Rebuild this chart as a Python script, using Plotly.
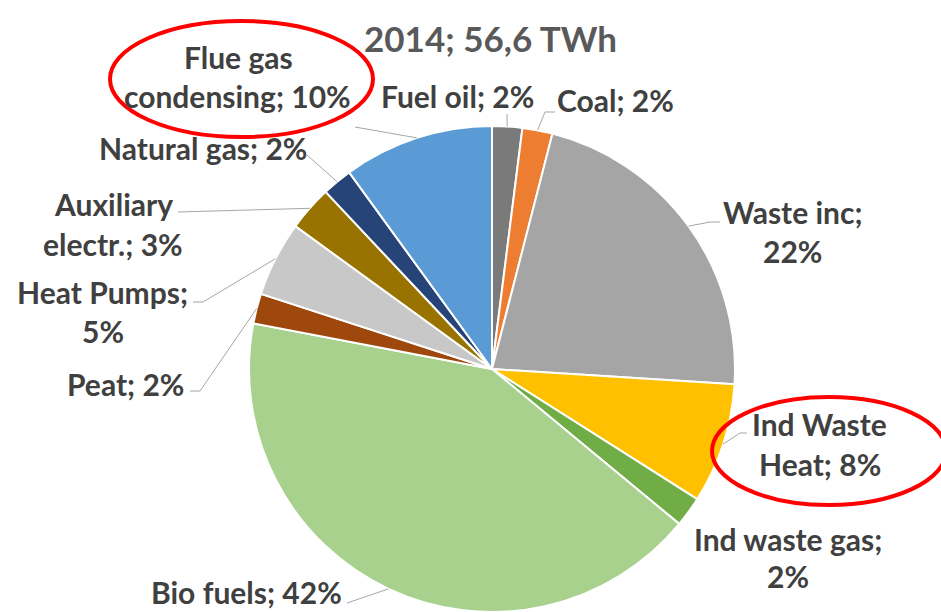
import math
import plotly.graph_objects as go

W, H = 941, 612

# ---- data ----
categories = ["Fuel oil", "Coal", "Waste inc", "Ind Waste Heat", "Ind waste gas",
              "Bio fuels", "Peat", "Heat Pumps", "Auxiliary electr.", "Natural gas",
              "Flue gas condensing"]
values = [2, 2, 22, 8, 2, 42, 2, 5, 3, 2, 10]
colors = ["#7A7A7A", "#ED7D31", "#A5A5A5", "#FFC000", "#70AD47",
          "#A9D18E", "#9E480E", "#C8C8C8", "#997300", "#264478", "#5B9BD5"]
title_text = "2014; 56,6 TWh"

# ---- layout (pixel positions of labels) ----
first_line_words = [None, None, 2, 2, 3, None, None, 2, 1, None, 2]
line_centers = [
    [(457, 97)],
    [(615, 101)],
    [(793, 213), (792, 252)],
    [(819, 425), (820, 465)],
    [(788, 540), (788, 577)],
    [(247, 593)],
    [(126, 385)],
    [(102, 293), (103, 332)],
    [(113, 205), (113, 245)],
    [(203, 149)],
    [(238, 58), (237, 97)],
]
# leader line points from label side (pixels); last point is computed on the pie edge
leader_pts = [
    [(507, 114)],
    [(555, 112), (545, 112)],
    [(720, 222), (710, 222)],
    [(747, 433), (740, 433)],
    None,
    [(347, 603)],
    [(190, 391), (200, 391)],
    [(193, 302), (203, 302)],
    [(178, 212)],
    [(307, 155)],
    [(355, 127)],
]
CX, CY, R = 492, 369, 243
FONT = "Lato"
TXT_COLOR = "#404040"
FS = 30


def px(x, y):
    return x / W, 1 - y / H


fig = go.Figure(go.Pie(
    labels=categories, values=values, sort=False, direction="clockwise",
    rotation=0, textinfo="none", hoverinfo="label+percent",
    marker=dict(colors=colors, line=dict(color="white", width=2)),
    domain=dict(x=[(CX - R) / W, (CX + R) / W], y=[0, 2 * R / H]),
    showlegend=False,
))

annotations = []
shapes = []
total = sum(values)
cum = 0
for i, (cat, v) in enumerate(zip(categories, values)):
    mid = (cum + v / 2) / total * 2 * math.pi
    cum += v
    ex = CX + R * math.sin(mid)
    ey = CY - R * math.cos(mid)
    full = f"{cat}; {v}%"
    words = full.split(" ")
    n = first_line_words[i]
    lines = [full] if n is None else [" ".join(words[:n]), " ".join(words[n:])]
    for txt, (lx, ly) in zip(lines, line_centers[i]):
        x, y = px(lx, ly - 1)
        annotations.append(dict(text=txt, x=x, y=y, xref="paper", yref="paper",
                                xanchor="center", yanchor="middle", showarrow=False,
                                font=dict(family=FONT, size=FS, color=TXT_COLOR, weight="bold")))
    if leader_pts[i]:
        pts = leader_pts[i] + [(ex, ey)]
        for (x0, y0), (x1, y1) in zip(pts[:-1], pts[1:]):
            a0, b0 = px(x0, y0)
            a1, b1 = px(x1, y1)
            shapes.append(dict(type="line", xref="paper", yref="paper",
                               x0=a0, y0=b0, x1=a1, y1=b1,
                               line=dict(color="#A6A6A6", width=1)))

# title
tx, ty = px(490, 38)
annotations.append(dict(text=title_text, x=tx, y=ty, xref="paper", yref="paper",
                        xanchor="center", yanchor="middle", showarrow=False,
                        font=dict(family=FONT, size=35, color="#595959", weight="bold")))

# red ellipses
for (x0, y0, x1, y1) in [(110, 21, 373, 137), (712, 397, 946, 505)]:
    a0, b0 = px(x0, y1)
    a1, b1 = px(x1, y0)
    shapes.append(dict(type="circle", xref="paper", yref="paper",
                       x0=a0, y0=b0, x1=a1, y1=b1,
                       line=dict(color="#FF0000", width=4)))

fig.update_layout(
    width=W, height=H, margin=dict(l=0, r=0, t=0, b=0),
    paper_bgcolor="white", plot_bgcolor="white",
    annotations=annotations, shapes=shapes,
)
fig.write_html("out.html", config={"displayModeBar": False},
               post_script="document.body.style.margin='0';")
